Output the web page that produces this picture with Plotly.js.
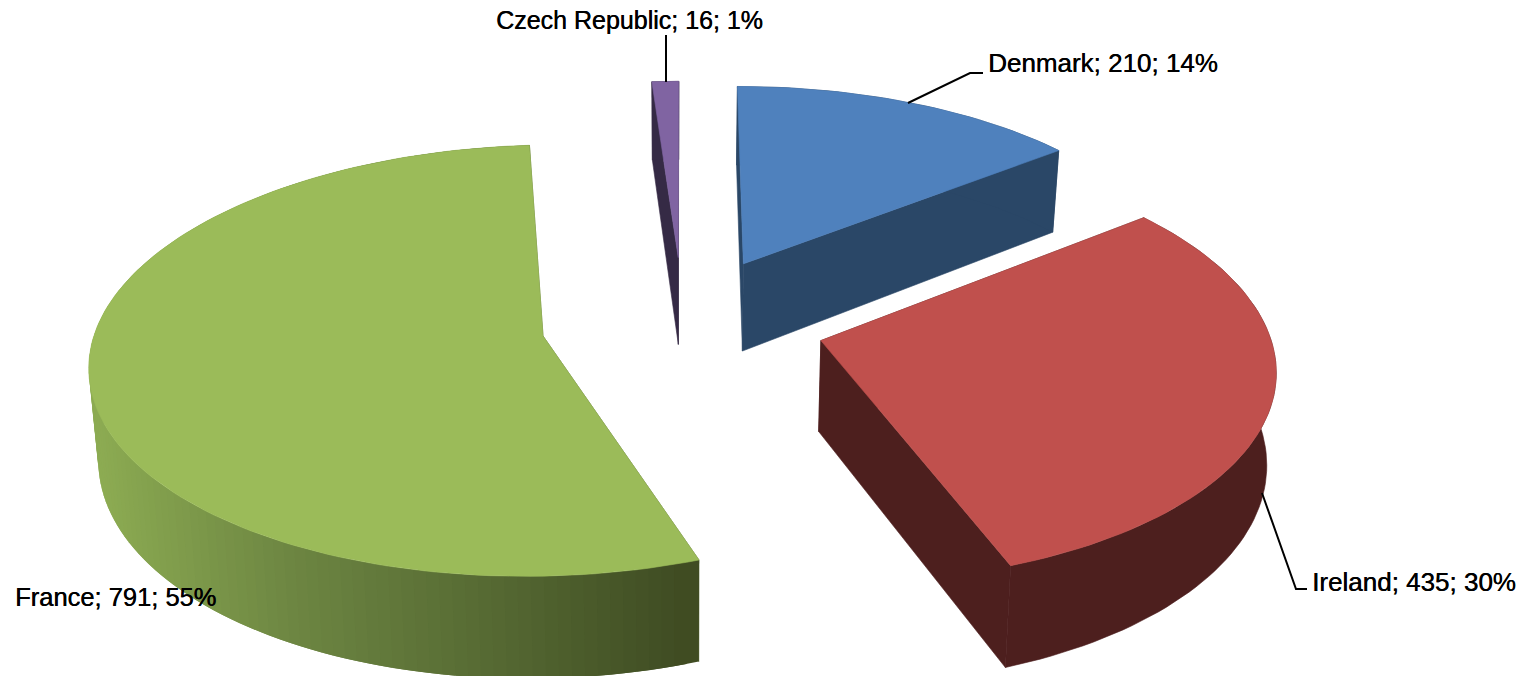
<!DOCTYPE html>
<html>
<head>
<meta charset="utf-8">
<script src="https://cdn.plot.ly/plotly-3.0.1.min.js"></script>
<style>html,body{margin:0;padding:0;background:#fff;overflow:hidden}#chart{width:1536px;height:676px}</style>
</head>
<body>
<div id="chart"></div>
<script>
const categories = ["Denmark", "Ireland", "France", "Czech Republic"];
const values = [210, 435, 791, 16];
const percents = [14, 30, 55, 1];
const topColors = ["#4F81BD", "#C0504D", "#9BBB59", "#8064A2"];
const sideColors = ["#2A4767", "#4D1F1E", "#566A33", "#352A45"];
const labelX = [986, 1310, 13, 494];
const labelY = [63, 582, 597, 20];
const labelSize = [26, 26, 25.5, 25];

// Perspective camera for the tilted pie
const Cx = 683, Cy = 322, A = 142, B = 66.8, K = 0.036, H = 90, S = 0.016, R = 3.14;
function project(u, v, z) {
  const w = 1 + K * v;
  return [Cx + A * u / w * (1 - S * z), Cy - B * v / w + H * z / w];
}
const total = values.reduce((a, b) => a + b, 0);
let cum = 0;
const slices = values.map((val, i) => {
  const a0 = cum / total * 2 * Math.PI;
  cum += val;
  const a1 = cum / total * 2 * Math.PI;
  const mid = (a0 + a1) / 2;
  return {i, a0, a1, ou: Math.sin(mid), ov: Math.cos(mid)};
});
function rimPoint(s, a, z) {
  return project(s.ou + R * Math.sin(a), s.ov + R * Math.cos(a), z);
}
function poly(points, color, lw) {
  const xs = points.map(p => p[0]), ys = points.map(p => p[1]);
  xs.push(xs[0]); ys.push(ys[0]);
  return {type: "scatter", mode: "lines", x: xs, y: ys, fill: "toself", fillcolor: color,
          line: {color: color, width: lw === undefined ? 0.6 : lw}, hoverinfo: "skip", showlegend: false};
}
function lerpColor(stops, t) {
  t = Math.max(0, Math.min(1, t));
  const p = t * (stops.length - 1), n = Math.min(Math.floor(p), stops.length - 2), f = p - n;
  const c = stops[n].map((q, j) => Math.round(q + (stops[n + 1][j] - q) * f));
  return "rgb(" + c.join(",") + ")";
}
const franceRamp = [[140, 171, 82], [109, 134, 66], [86, 106, 51], [63, 75, 34]];
const traces = [];
function addSlice(s) {
  const col = sideColors[s.i];
  const a0 = rimPoint(s, s.a0, 0), a0b = rimPoint(s, s.a0, 1);
  const a1 = rimPoint(s, s.a1, 0), a1b = rimPoint(s, s.a1, 1);
  const c = project(s.ou, s.ov, 0), cb = project(s.ou, s.ov, 1);
  traces.push(poly([c, a0, a0b, cb], col));
  traces.push(poly([c, a1, a1b, cb], col));
  const n = Math.max(24, Math.ceil((s.a1 - s.a0) / (Math.PI / 120)));
  const at = j => s.a0 + (s.a1 - s.a0) * j / n;
  if (s.i === 2) {
    // graded outer wall: each band overlaps the next so no seams appear
    for (let j = n - 1; j >= 0; j--) {
      const p0 = rimPoint(s, at(j), 0), p1 = rimPoint(s, at(j + 1), 0);
      const color = lerpColor(franceRamp, (((p0[0] + p1[0]) / 2) - 100) / 598);
      traces.push(poly([p0, rimPoint(s, at(Math.min(j + 2, n)), 0), rimPoint(s, at(Math.min(j + 2, n)), 1), rimPoint(s, at(j), 1)], color, 0));
    }
  } else {
    const wall = [];
    for (let j = 0; j <= n; j++) wall.push(rimPoint(s, at(j), 0));
    for (let j = n; j >= 0; j--) wall.push(rimPoint(s, at(j), 1));
    traces.push(poly(wall, col));
  }
  const top = [c];
  for (let j = 0; j <= n; j++) top.push(rimPoint(s, at(j), 0));
  traces.push(poly(top, topColors[s.i]));
}
// back-to-front order
[3, 0, 2, 1].forEach(i => addSlice(slices[i]));

const annotations = categories.map((c, i) => ({
  xref: "x", yref: "y", x: labelX[i], y: labelY[i], xanchor: "left", yanchor: "middle",
  showarrow: false, text: c + "; " + values[i] + "; " + percents[i] + "%",
  font: {family: "Liberation Sans, Arial, sans-serif", size: labelSize[i], color: "#000", shadow: "0.4px 0 0.3px #000"}
}));
const leader = d => ({type: "path", xref: "x", yref: "y", path: d, line: {color: "#000", width: 2}});
const layout = {
  width: 1536, height: 676, margin: {l: 0, r: 0, t: 0, b: 0},
  paper_bgcolor: "#fff", plot_bgcolor: "#fff", showlegend: false,
  xaxis: {range: [0, 1536], visible: false, fixedrange: true},
  yaxis: {range: [676, 0], visible: false, fixedrange: true},
  annotations,
  shapes: [leader("M908,103 L970,73 L983,73"), leader("M666,82 L666,35"), leader("M1262,493 L1296,589 L1307,589")]
};
Plotly.newPlot("chart", traces, layout, {displayModeBar: false, staticPlot: true});
</script>
</body>
</html>
